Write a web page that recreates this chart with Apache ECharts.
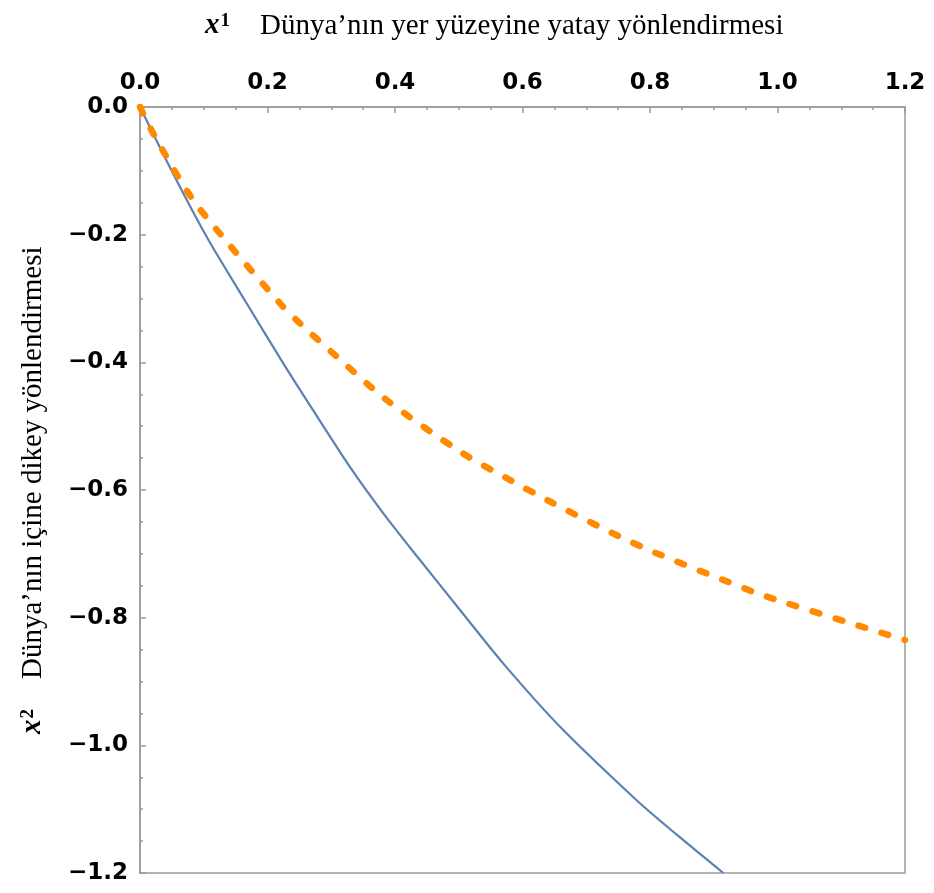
<!DOCTYPE html>
<html>
<head>
<meta charset="utf-8">
<title>x1 / x2</title>
<script src="https://cdn.jsdelivr.net/npm/echarts@6/dist/echarts.min.js"></script>
<style>
  html, body { margin: 0; padding: 0; background: #fff; }
  #chart { width: 934px; height: 893px; }
</style>
</head>
<body>
<div id="chart"></div>
<script>
// values
var blueX = [0, 0.052, 0.105, 0.167, 0.225, 0.251, 0.329, 0.382, 0.437, 0.502, 0.570, 0.659, 0.779, 0.842, 0.915];
var blueY = [0, -0.1045, -0.204, -0.307, -0.402, -0.443, -0.5635, -0.637, -0.707, -0.788, -0.872, -0.971, -1.086, -1.140, -1.2];

var orangeX = [0, 0.021, 0.078, 0.126, 0.220, 0.251, 0.303, 0.387, 0.507, 0.580, 0.643, 0.742, 0.810, 0.915, 0.983, 1.2];
var orangeY = [0, -0.042, -0.138, -0.199, -0.308, -0.339, -0.386, -0.459, -0.543, -0.584, -0.618, -0.668, -0.699, -0.741, -0.767, -0.835];

var xTitle = 'Dünya’nın yer yüzeyine yatay yönlendirmesi';
var yTitle = 'Dünya’nın içine dikey yönlendirmesi';

function pairs(xs, ys) {
  return xs.map(function(x, i) { return [x, ys[i]]; });
}

function fmt(v) {
  var s = Math.abs(v).toFixed(1);
  return v < -1e-9 ? '\u2212' + s : s;
}

var frame = '#9a9a9a';
var labelStyle = {
  color: '#000',
  fontFamily: 'DejaVu Sans',
  fontWeight: 'bold',
  fontSize: 23
};
var titleRich = {
  it: { fontFamily: 'Liberation Serif', fontStyle: 'italic', fontWeight: 'bold', fontSize: 29, color: '#000' },
  sup: { fontFamily: 'Liberation Serif', fontWeight: 'bold', fontSize: 19, color: '#000', verticalAlign: 'top', padding: [0, 30, 0, 1] },
  t: { fontFamily: 'Liberation Serif', fontSize: 29, color: '#000' }
};

var chart = echarts.init(document.getElementById('chart'));

chart.setOption({
  animation: false,
  backgroundColor: '#fff',
  grid: {
    left: 140, right: 29, top: 107, bottom: 20,
    show: true, borderColor: frame, borderWidth: 1.5, backgroundColor: '#fff'
  },
  xAxis: {
    type: 'value', position: 'top',
    min: 0, max: 1.2, interval: 0.2,
    axisLine: { show: true, lineStyle: { color: frame, width: 1.5 } },
    axisTick: { show: true, inside: true, length: 6, lineStyle: { color: frame, width: 1.5 } },
    minorTick: { show: true, splitNumber: 4, length: 3, lineStyle: { color: frame, width: 1.5 } },
    splitLine: { show: false },
    axisLabel: Object.assign({ margin: 12, showMinLabel: true, showMaxLabel: true, formatter: fmt }, labelStyle)
  },
  yAxis: {
    type: 'value',
    min: -1.2, max: 0, interval: 0.2,
    axisLine: { show: true, lineStyle: { color: frame, width: 1.5 } },
    axisTick: { show: true, inside: true, length: 6, lineStyle: { color: frame, width: 1.5 } },
    minorTick: { show: true, splitNumber: 4, length: 3, lineStyle: { color: frame, width: 1.5 } },
    splitLine: { show: false },
    axisLabel: Object.assign({ margin: 12, showMinLabel: true, showMaxLabel: true, formatter: fmt }, labelStyle)
  },
  graphic: [
    {
      type: 'text', x: 205, y: 26,
      style: {
        text: '{it|x}{sup|1}{t|' + xTitle + '}',
        rich: titleRich, align: 'left', verticalAlign: 'middle'
      }
    },
    {
      type: 'text', x: 33, y: 734, rotation: Math.PI / 2,
      style: {
        text: '{it|x}{sup|2}{t|' + yTitle + '}',
        rich: titleRich, align: 'left', verticalAlign: 'middle'
      }
    }
  ],
  series: [
    {
      type: 'line',
      data: pairs(blueX, blueY),
      smooth: 0.3,
      showSymbol: false,
      clip: true,
      lineStyle: { color: '#5e81b5', width: 2.2 }
    },
    {
      type: 'line',
      data: pairs(orangeX, orangeY),
      smooth: 0.3,
      showSymbol: false,
      clip: true,
      lineStyle: { color: '#ff8a00', width: 6.5, type: [7, 17], cap: 'round' }
    }
  ]
});
</script>
</body>
</html>
